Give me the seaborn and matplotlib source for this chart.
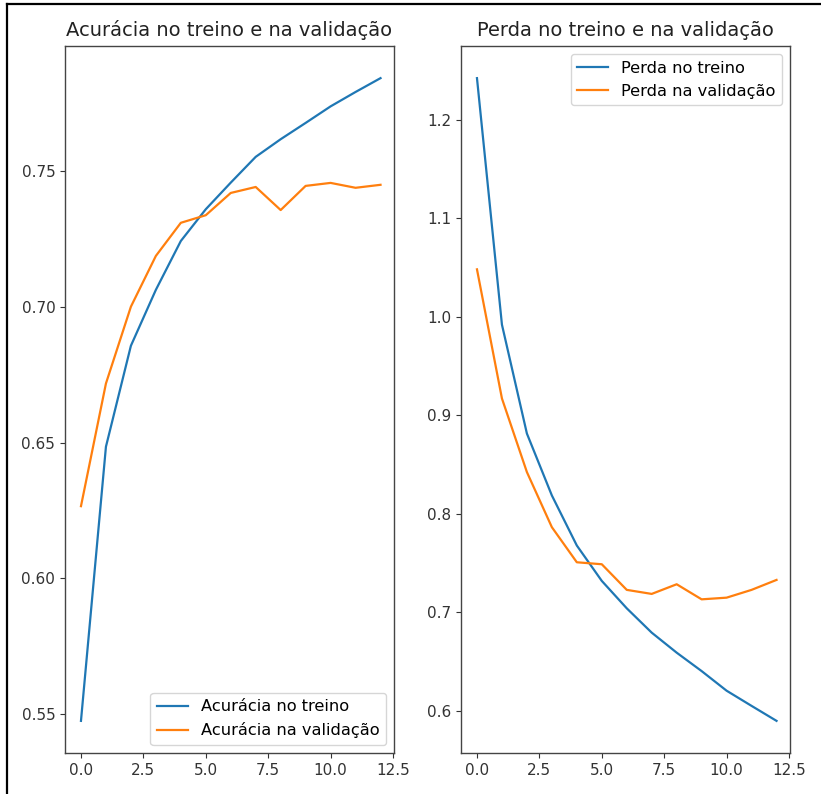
import matplotlib
matplotlib.use("Agg")
import matplotlib.pyplot as plt
from matplotlib.lines import Line2D
import pandas as pd
import seaborn as sns

# Training history per epoch
epochs = list(range(13))
acc_treino = [0.5475, 0.6485, 0.6857, 0.7063, 0.7243, 0.7360, 0.7458,
              0.7553, 0.7618, 0.7678, 0.7739, 0.7792, 0.7843]
acc_validacao = [0.6266, 0.6718, 0.7001, 0.7188, 0.7310, 0.7338, 0.7420,
                 0.7442, 0.7357, 0.7446, 0.7457, 0.7439, 0.7450]
perda_treino = [1.2420, 0.9919, 0.8814, 0.8186, 0.7678, 0.7319, 0.7041,
                0.6794, 0.6591, 0.6404, 0.6205, 0.6051, 0.5899]
perda_validacao = [1.0480, 0.9170, 0.8423, 0.7864, 0.7508, 0.7488, 0.7228,
                   0.7187, 0.7285, 0.7132, 0.7149, 0.7228, 0.7329]

titulos = ["Acurácia no treino e na validação", "Perda no treino e na validação"]
rotulos_acc = ["Acurácia no treino", "Acurácia na validação"]
rotulos_perda = ["Perda no treino", "Perda na validação"]
xticks = [0.0, 2.5, 5.0, 7.5, 10.0, 12.5]

plt.rcParams["font.family"] = ["DejaVu Sans"]
plt.rcParams["font.size"] = 10.5

W, H = 821, 794
fig = plt.figure(figsize=(W / 100, H / 100), dpi=100)

def px_axes(x0, y0, x1, y1):
    return fig.add_axes([x0 / W, 1 - y1 / H, (x1 - x0) / W, (y1 - y0) / H])

ax1 = px_axes(65, 46, 394, 753)
ax2 = px_axes(461, 46, 790, 753)

cores = ["#1f77b4", "#ff7f0e"]

def desenha(ax, serie_a, serie_b, rotulos, titulo, loc):
    df = pd.DataFrame({
        "epoca": epochs * 2,
        "valor": serie_a + serie_b,
        "serie": [rotulos[0]] * len(epochs) + [rotulos[1]] * len(epochs),
    })
    sns.lineplot(data=df, x="epoca", y="valor", hue="serie", palette=cores,
                 ax=ax, linewidth=1.6, legend=True)
    ax.set_xlabel("")
    ax.set_ylabel("")
    ax.set_title(titulo, fontsize=14, pad=7, color="#222222")
    ax.legend(loc=loc, fontsize=11.7, title=None, framealpha=0.8,
              handlelength=1.9)
    ax.set_xticks(xticks)
    ax.set_xticklabels([f"{t:.1f}" for t in xticks])
    ax.set_xlim(-0.64, 12.54)
    ax.tick_params(labelsize=11, colors="#333333")
    for s in ax.spines.values():
        s.set_color("#444444")
        s.set_linewidth(1.0)

desenha(ax1, acc_treino, acc_validacao, rotulos_acc, titulos[0], "lower right")
desenha(ax2, perda_treino, perda_validacao, rotulos_perda, titulos[1], "upper right")

ax1.set_yticks([0.55, 0.60, 0.65, 0.70, 0.75])
ax2.set_yticks([0.6, 0.7, 0.8, 0.9, 1.0, 1.1, 1.2])

# outer frame along the top and left edges
fig.add_artist(Line2D([7 / W, 1], [1 - 4 / H, 1 - 4 / H], color="black",
                      linewidth=1.6, transform=fig.transFigure))
fig.add_artist(Line2D([7 / W, 7 / W], [0, 1 - 4 / H], color="black",
                      linewidth=1.6, transform=fig.transFigure))

fig.savefig("out.png", dpi=100)
